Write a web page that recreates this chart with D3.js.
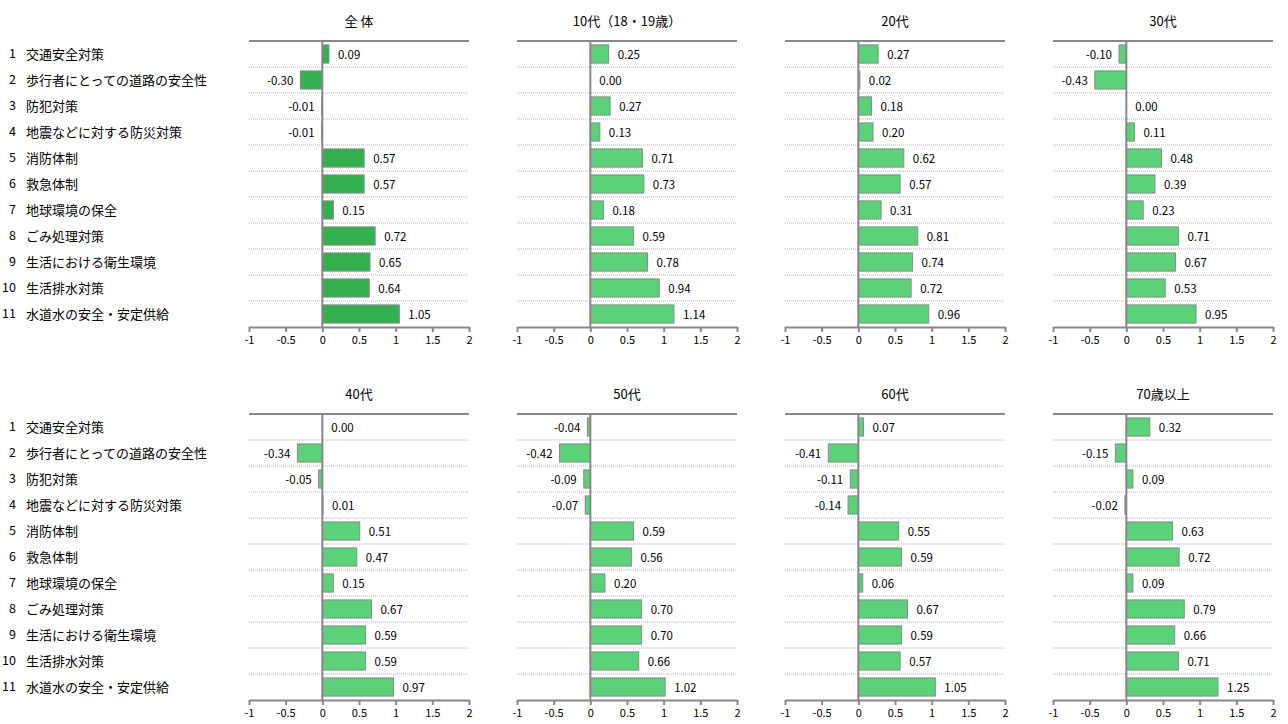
<!DOCTYPE html>
<html>
<head>
<meta charset="utf-8">
<script src="https://cdn.jsdelivr.net/npm/d3@7"></script>
<style>
  body { margin: 0; background: #fff; }
  text { font-family: "Noto Sans CJK JP", "Noto Sans", sans-serif; fill: #000; }
</style>
</head>
<body>
<div id="chart"></div>
<script>
var categories = ["1 交通安全対策", "2 歩行者にとっての道路の安全性", "3 防犯対策",
  "4 地震などに対する防災対策", "5 消防体制", "6 救急体制", "7 地球環境の保全",
  "8 ごみ処理対策", "9 生活における衛生環境", "10 生活排水対策", "11 水道水の安全・安定供給"];

var panelTitles = ["全 体", "10代（18・19歳）", "20代", "30代", "40代", "50代", "60代", "70歳以上"];

var all   = [0.09, -0.30, -0.01, -0.01, 0.57, 0.57, 0.15, 0.72, 0.65, 0.64, 1.05];
var age10 = [0.25, 0.00, 0.27, 0.13, 0.71, 0.73, 0.18, 0.59, 0.78, 0.94, 1.14];
var age20 = [0.27, 0.02, 0.18, 0.20, 0.62, 0.57, 0.31, 0.81, 0.74, 0.72, 0.96];
var age30 = [-0.10, -0.43, 0.00, 0.11, 0.48, 0.39, 0.23, 0.71, 0.67, 0.53, 0.95];
var age40 = [0.00, -0.34, -0.05, 0.01, 0.51, 0.47, 0.15, 0.67, 0.59, 0.59, 0.97];
var age50 = [-0.04, -0.42, -0.09, -0.07, 0.59, 0.56, 0.20, 0.70, 0.70, 0.66, 1.02];
var age60 = [0.07, -0.41, -0.11, -0.14, 0.55, 0.59, 0.06, 0.67, 0.59, 0.57, 1.05];
var age70 = [0.32, -0.15, 0.09, -0.02, 0.63, 0.72, 0.09, 0.79, 0.66, 0.71, 1.25];

var tickValues = [-1, -0.5, 0, 0.5, 1, 1.5, 2];

var series = [all, age10, age20, age30, age40, age50, age60, age70];

var width = 1288, height = 724;
var panelLeft = [249, 517, 785, 1053];
var panelWidth = 220;
var rowTop = [41, 414];
var rowHeight = 26;
var plotHeight = rowHeight * categories.length;

// hyphen instead of the unicode minus that d3.format gives
var fmt = function(d) { return d3.format(".2f")(d).replace("\u2212", "-"); };

var svg = d3.select("#chart").append("svg")
    .attr("width", width)
    .attr("height", height);

// category labels on the left, one set per row of panels
rowTop.forEach(function(top) {
  var y = d3.scaleBand().domain(categories).range([top, top + plotHeight]);
  var lab = svg.append("g").selectAll("g")
      .data(categories)
      .enter().append("g")
      .attr("transform", function(d) { return "translate(0," + (y(d) + y.bandwidth() / 2) + ")"; });
  lab.append("text")
      .attr("x", 16)
      .attr("dy", "0.35em")
      .attr("text-anchor", "end")
      .attr("font-size", 12.5)
      .text(function(d) { return d.split(" ")[0]; });
  lab.append("text")
      .attr("x", 26)
      .attr("dy", "0.35em")
      .attr("font-size", 13)
      .text(function(d) { return d.split(" ")[1]; });
});

series.forEach(function(values, i) {
  var col = i % 4, row = Math.floor(i / 4);
  var left = panelLeft[col], top = rowTop[row];

  var x = d3.scaleLinear().domain([-1, 2]).range([0, panelWidth]);
  var y = d3.scaleBand().domain(categories).range([0, plotHeight]).paddingInner(0.3).paddingOuter(0.15);
  var yRow = d3.scaleBand().domain(categories).range([0, plotHeight]);

  var g = svg.append("g").attr("transform", "translate(" + left + "," + top + ")");

  // title
  g.append("text")
      .attr("x", panelWidth / 2)
      .attr("y", -20)
      .attr("text-anchor", "middle")
      .attr("dy", "0.35em")
      .attr("font-size", 13)
      .text(panelTitles[i]);

  // row separators (dotted)
  g.selectAll(".sep")
      .data(categories.slice(1))
      .enter().append("line")
      .attr("x1", 0).attr("x2", panelWidth)
      .attr("y1", function(d) { return yRow(d); })
      .attr("y2", function(d) { return yRow(d); })
      .attr("stroke", "#b0b0b0")
      .attr("stroke-width", 1)
      .attr("stroke-dasharray", "1,1");

  // top line
  g.append("line")
      .attr("x1", 0).attr("x2", panelWidth)
      .attr("y1", 0).attr("y2", 0)
      .attr("stroke", "#888")
      .attr("stroke-width", 2);

  // bars
  g.selectAll(".bar")
      .data(values)
      .enter().append("rect")
      .attr("x", function(d) { return x(Math.min(0, d)); })
      .attr("y", function(d, k) { return y(categories[k]); })
      .attr("width", function(d) { return Math.abs(x(d) - x(0)); })
      .attr("height", y.bandwidth())
      .attr("fill", i === 0 ? "#33b04f" : "#5bd27a")
      .attr("stroke", "#8a8a8a")
      .attr("stroke-width", function(d) { return d === 0 ? 0 : 1; });

  // value labels
  g.selectAll(".val")
      .data(values)
      .enter().append("text")
      .attr("x", function(d) { return d < 0 ? x(d) - 7 : x(d) + 9; })
      .attr("y", function(d, k) { return yRow(categories[k]) + yRow.bandwidth() / 2 + 1; })
      .attr("dy", "0.35em")
      .attr("text-anchor", function(d) { return d < 0 ? "end" : "start"; })
      .attr("font-size", 11.5)
      .text(fmt);

  // zero line
  g.append("line")
      .attr("x1", x(0)).attr("x2", x(0))
      .attr("y1", 0).attr("y2", plotHeight)
      .attr("stroke", "#888")
      .attr("stroke-width", 2);

  // x axis
  var axis = g.append("g")
      .attr("transform", "translate(0," + plotHeight + ")")
      .call(d3.axisBottom(x).tickValues(tickValues).tickSize(5).tickSizeOuter(0).tickPadding(4)
        .tickFormat(function(d) { return String(d); }));
  axis.select(".domain").attr("stroke", "#888").attr("stroke-width", 2);
  axis.selectAll(".tick line").attr("stroke", "#888").attr("stroke-width", 2);
  axis.selectAll(".tick text").attr("font-size", 11)
      .attr("font-family", "\"Noto Sans CJK JP\", sans-serif").attr("fill", "#000");
});
</script>
</body>
</html>
